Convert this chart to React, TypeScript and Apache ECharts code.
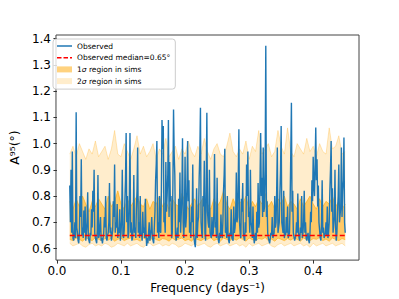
import React, { useEffect, useRef } from "react";
import * as echarts from "echarts";

// Frequency grids (days^-1)
const FREQ_START = 0.02;
const OBS_STEP = 0.001;
const BAND_STEP = 0.005;

const observed = [
  0.84, 0.70, 0.90, 0.66, 0.97, 0.64, 0.63, 0.65, 0.70, 0.64,
  1.12, 0.68, 0.66, 0.63, 0.62, 0.66, 0.80, 0.72, 0.94, 0.65,
  0.68, 0.64, 0.745, 0.66, 0.76, 0.63, 0.66, 0.70, 0.815, 0.64,
  0.63, 0.62, 0.66, 0.65, 0.75, 0.68, 0.82, 0.74, 0.90, 0.66,
  0.64, 0.63, 0.62, 0.67, 0.88, 0.64, 0.65, 0.69, 0.72, 0.63,
  0.64, 0.62, 0.62, 0.66, 0.72, 0.68, 0.80, 0.64, 0.63, 0.65,
  0.66, 0.70, 0.85, 0.66, 0.68, 0.63, 0.63, 0.67, 0.78, 0.72,
  0.92, 0.66, 0.70, 0.68, 0.77, 0.64, 0.68, 0.66, 0.75, 0.63,
  0.66, 0.71, 0.90, 0.65, 0.64, 0.67, 0.78, 0.86, 1.04, 0.70,
  0.80, 0.64, 0.66, 0.78, 1.04, 0.66, 0.70, 0.63, 0.64, 0.68,
  0.88, 0.66, 0.68, 0.64, 0.75, 0.82, 0.985, 0.66, 0.70, 0.64,
  0.80, 0.65, 0.66, 0.63, 0.74, 0.66, 0.68, 0.64, 0.79, 0.66,
  0.61, 0.64, 0.62, 0.66, 0.70, 0.63, 0.65, 0.67, 0.72, 0.64,
  0.63, 0.62, 0.68, 0.74, 0.86, 0.92, 1.01, 0.66, 0.70, 0.64,
  0.80, 0.67, 0.66, 0.82, 1.09, 0.98, 1.067, 0.70, 0.72, 0.66,
  0.93, 0.74, 0.80, 0.88, 1.09, 0.72, 0.93, 0.78, 0.80, 0.64,
  0.66, 0.84, 1.13, 0.96, 0.88, 0.66, 0.63, 0.65, 0.68, 0.64,
  0.79, 0.70, 0.89, 0.66, 0.66, 0.80, 1.02, 0.70, 0.64, 0.72,
  0.95, 0.68, 0.72, 0.84, 1.01, 0.78, 0.86, 0.66, 0.70, 0.64,
  0.76, 0.70, 0.92, 0.66, 0.64, 0.62, 0.605, 0.66, 0.83, 0.64,
  0.70, 0.72, 0.87, 0.96, 1.137, 0.70, 0.66, 0.64, 0.80, 0.76,
  0.935, 0.66, 0.63, 0.84, 1.118, 0.74, 0.70, 0.68, 0.90, 0.66,
  0.66, 0.64, 0.72, 0.65, 0.66, 0.74, 0.96, 0.68, 0.70, 0.64,
  0.87, 0.66, 0.63, 0.62, 0.66, 0.64, 0.73, 0.66, 0.64, 0.70,
  0.82, 0.88, 0.98, 0.66, 0.68, 0.64, 0.80, 0.66, 0.63, 0.62,
  0.66, 0.65, 0.75, 0.64, 0.64, 0.63, 0.76, 0.66, 0.68, 0.72,
  0.89, 0.70, 0.72, 0.86, 1.055, 0.70, 0.66, 0.64, 0.79, 0.74,
  0.85, 0.66, 0.64, 0.63, 0.70, 0.66, 0.92, 0.80, 0.97, 0.72,
  0.74, 0.66, 0.90, 0.70, 0.68, 0.64, 0.76, 0.65, 0.62, 0.64,
  0.66, 0.63, 0.74, 0.66, 0.85, 0.68, 0.70, 0.86, 1.04, 0.80,
  0.87, 0.72, 0.985, 0.74, 0.76, 0.90, 1.373, 0.72, 0.78, 0.66,
  0.64, 0.63, 0.62, 0.64, 0.66, 0.65, 0.72, 0.64, 0.64, 0.66,
  0.80, 0.68, 0.70, 0.82, 0.985, 0.66, 0.66, 0.70, 0.81, 0.90,
  1.067, 0.70, 0.68, 0.66, 0.82, 0.64, 0.66, 0.65, 0.72, 0.66,
  0.76, 0.64, 0.64, 0.66, 0.78, 0.96, 1.156, 0.74, 0.82, 0.66,
  0.66, 0.63, 0.63, 0.65, 0.70, 0.66, 0.81, 0.66, 0.64, 0.63,
  0.68, 0.66, 0.80, 0.64, 0.66, 0.70, 0.82, 0.66, 0.70, 0.64,
  0.63, 0.65, 0.66, 0.63, 0.62, 0.66, 0.74, 0.70, 0.86, 0.78,
  0.95, 0.84, 0.80, 0.92, 1.061, 0.86, 0.94, 0.76, 0.84, 0.70,
  0.70, 0.64, 0.63, 0.70, 0.86, 0.66, 0.68, 0.64, 0.64, 0.66,
  0.70, 0.65, 0.76, 0.64, 0.66, 0.70, 0.82, 0.90, 1.01, 0.74,
  0.83, 0.66, 0.66, 0.72, 0.90, 0.68, 0.63, 0.66, 0.74, 0.80,
  0.92, 0.70, 0.70, 0.76, 0.985, 0.72, 0.82, 0.86, 1.023, 0.70,
  0.66,
];

const medianValue = 0.65;
const medianRange = [0.02, 0.45];

// Simulation bands (one value per 0.005 days^-1)
const sigma2Lower = [
  0.62, 0.61, 0.615, 0.62, 0.61, 0.605, 0.615, 0.62, 0.61, 0.615,
  0.61, 0.62, 0.615, 0.605, 0.61, 0.62, 0.615, 0.61, 0.62, 0.61,
  0.615, 0.62, 0.61, 0.605, 0.615, 0.62, 0.61, 0.615, 0.62, 0.61,
  0.615, 0.61, 0.62, 0.615, 0.605, 0.61, 0.62, 0.615, 0.61, 0.62,
  0.61, 0.615, 0.62, 0.61, 0.605, 0.615, 0.62, 0.61, 0.615, 0.62,
  0.61, 0.615, 0.62, 0.61, 0.615, 0.605, 0.62, 0.61, 0.615, 0.62,
  0.61, 0.615, 0.62, 0.61, 0.605, 0.615, 0.62, 0.61, 0.615, 0.62,
  0.61, 0.615, 0.62, 0.61, 0.615, 0.605, 0.62, 0.61, 0.615, 0.62,
  0.61, 0.615, 0.62, 0.61, 0.615, 0.62, 0.61,
];
const sigma2Upper = [
  0.96, 0.99, 0.95, 1.00, 0.97, 0.94, 0.98, 0.96, 1.01, 0.95,
  0.97, 0.99, 0.94, 0.98, 1.05, 0.96, 0.95, 1.00, 0.97, 0.94,
  0.98, 1.03, 0.96, 0.99, 0.95, 0.97, 1.00, 0.94, 0.98, 0.96,
  1.02, 0.95, 0.97, 0.99, 0.94, 0.98, 0.96, 1.01, 0.97, 0.95,
  0.99, 0.96, 1.02, 0.97, 0.94, 0.98, 1.00, 0.96, 0.95, 0.99,
  1.04, 0.97, 0.95, 0.98, 0.96, 1.01, 0.94, 0.99, 0.97, 1.05,
  0.96, 0.98, 1.00, 0.95, 0.97, 1.05, 0.99, 0.96, 1.06, 0.97,
  0.95, 1.00, 0.98, 0.96, 1.02, 0.97, 0.99, 0.95, 1.00, 0.97,
  0.96, 1.06, 0.98, 0.99, 1.03, 0.96, 0.97,
];
const sigma1Lower = [
  0.635, 0.63, 0.64, 0.635, 0.628, 0.64, 0.635, 0.63, 0.642, 0.635,
  0.63, 0.638, 0.632, 0.64, 0.628, 0.635, 0.64, 0.63, 0.636, 0.64,
  0.632, 0.635, 0.628, 0.64, 0.635, 0.63, 0.642, 0.634, 0.63, 0.638,
  0.635, 0.628, 0.64, 0.632, 0.636, 0.64, 0.63, 0.635, 0.628, 0.64,
  0.634, 0.63, 0.638, 0.635, 0.642, 0.63, 0.636, 0.628, 0.64, 0.635,
  0.63, 0.638, 0.632, 0.64, 0.635, 0.628, 0.64, 0.634, 0.63, 0.638,
  0.635, 0.642, 0.63, 0.636, 0.628, 0.64, 0.635, 0.63, 0.638, 0.632,
  0.64, 0.635, 0.628, 0.64, 0.634, 0.63, 0.638, 0.635, 0.642, 0.63,
  0.636, 0.628, 0.64, 0.635, 0.63, 0.638, 0.634,
];
const sigma1Upper = [
  0.78, 0.75, 0.79, 0.76, 0.80, 0.77, 0.74, 0.78, 0.76, 0.79,
  0.77, 0.75, 0.80, 0.76, 0.78, 0.82, 0.77, 0.75, 0.79, 0.76,
  0.78, 0.80, 0.77, 0.76, 0.79, 0.75, 0.78, 0.77, 0.80, 0.76,
  0.78, 0.75, 0.79, 0.77, 0.76, 0.81, 0.78, 0.75, 0.77, 0.79,
  0.76, 0.78, 0.80, 0.77, 0.75, 0.79, 0.76, 0.78, 0.82, 0.77,
  0.75, 0.79, 0.76, 0.78, 0.77, 0.80, 0.75, 0.78, 0.76, 0.79,
  0.77, 0.81, 0.76, 0.78, 0.75, 0.79, 0.77, 0.80, 0.76, 0.78,
  0.77, 0.75, 0.79, 0.76, 0.78, 0.80, 0.77, 0.75, 0.79, 0.76,
  0.78, 0.77, 0.80, 0.76, 0.78, 0.75, 0.77,
];

const xTicks = [0.0, 0.1, 0.2, 0.3, 0.4];
const yTicks = [0.6, 0.7, 0.8, 0.9, 1.0, 1.1, 1.2, 1.3, 1.4];

const FONT = "DejaVu Sans";
const OBS_NAME = "Observed";
const MED_NAME = "Observed median=0.65°";
const S1_NAME = "1σ region in sims";
const S2_NAME = "2σ region in sims";

const S1_FILL = "rgba(255,165,0,0.5)";
const S2_FILL = "rgba(255,165,0,0.2)";

function bandSeries(name: string, xs: number[], lower: number[], upper: number[], fill: string, edge: string) {
  return {
    name,
    type: "custom",
    silent: true,
    clip: true,
    z: 1,
    itemStyle: { color: fill },
    data: xs.map((x, j) => [x, lower[j], upper[j]]),
    encode: { x: 0, y: [1, 2] },
    renderItem: (params: any, api: any) => {
      if (params.dataIndex !== 0) return null;
      const up = xs.map((x, j) => api.coord([x, upper[j]]));
      const lo = xs.map((x, j) => api.coord([x, lower[j]]));
      const poly = up.concat(lo.slice().reverse());
      return {
        type: "group",
        children: [
          { type: "polygon", shape: { points: poly }, style: { fill, stroke: "none" } },
          { type: "polyline", shape: { points: up }, style: { stroke: edge, lineWidth: 1, fill: "none" } },
          { type: "polyline", shape: { points: lo }, style: { stroke: edge, lineWidth: 1, fill: "none" } },
        ],
      };
    },
  };
}

export default function App() {
  const ref = useRef<HTMLDivElement>(null);

  useEffect(() => {
    const chart = echarts.init(ref.current!, null, { renderer: "svg" });
    const r4 = (v: number) => Math.round(v * 10000) / 10000;
    const obsData = observed.map((v, i) => [r4(FREQ_START + i * OBS_STEP), v]);
    const bandX = sigma2Lower.map((_, j) => r4(FREQ_START + j * BAND_STEP));

    chart.setOption({
      animation: false,
      backgroundColor: "#ffffff",
      grid: {
        left: 50,
        right: 40,
        top: 35,
        bottom: 38,
        show: true,
        borderColor: "#444",
        borderWidth: 1,
        backgroundColor: "transparent",
      },
      xAxis: {
        type: "value",
        min: -0.0015,
        max: 0.4715,
        axisLine: { show: false },
        splitLine: { show: false },
        axisTick: {
          show: true,
          customValues: xTicks,
          length: 3.5,
          lineStyle: { color: "#333", width: 1 },
        },
        axisLabel: {
          customValues: xTicks,
          formatter: (v: number) => v.toFixed(1),
          fontFamily: FONT,
          fontSize: 12,
          color: "#000",
          margin: 5,
        },
        name: "Frequency (days⁻¹)",
        nameLocation: "middle",
        nameGap: 19,
        nameTextStyle: { fontFamily: FONT, fontSize: 12, color: "#000" },
      },
      yAxis: {
        type: "value",
        min: 0.556,
        max: 1.414,
        axisLine: { show: false },
        splitLine: { show: false },
        axisTick: {
          show: true,
          customValues: yTicks,
          length: 3.5,
          lineStyle: { color: "#333", width: 1 },
        },
        axisLabel: {
          customValues: yTicks,
          formatter: (v: number) => v.toFixed(1),
          fontFamily: FONT,
          fontSize: 12,
          color: "#000",
          margin: 5,
        },
        name: "A⁹⁵(°)",
        nameLocation: "middle",
        nameRotate: 90,
        nameGap: 24,
        nameTextStyle: { fontFamily: FONT, fontSize: 12.5, color: "#000" },
      },
      legend: {
        orient: "vertical",
        left: 53,
        top: 39,
        itemWidth: 15,
        itemHeight: 6,
        itemGap: 1.7,
        padding: [2, 5, 3, 4],
        symbolKeepAspect: true,
        backgroundColor: "rgba(255,255,255,0.8)",
        borderColor: "#cccccc",
        borderWidth: 1,
        borderRadius: 3,
        textStyle: {
          fontFamily: FONT,
          fontSize: 7.5,
          color: "#000",
          lineHeight: 10,
          rich: {
            n: { fontFamily: FONT, fontSize: 7.5, color: "#000", lineHeight: 10 },
            i: { fontFamily: FONT, fontSize: 7.5, color: "#000", fontStyle: "italic", lineHeight: 10 },
          },
        },
        formatter: (name: string) =>
          name.includes("σ") ? `{n|${name.slice(0, 1)}}{i|σ}{n|${name.slice(2)}}` : name,
        data: [
          {
            name: OBS_NAME,
            icon: "path://M0,0H15V1.5H0Z",
            itemStyle: { color: "#1f77b4", borderWidth: 0 },
          },
          {
            name: MED_NAME,
            icon: "path://M0,0H4.5V1.5H0ZM6.5,0H11V1.5H6.5ZM13,0H15V1.5H13Z",
            itemStyle: { color: "#ff0000", borderWidth: 0 },
          },
          { name: S1_NAME, icon: "rect", itemStyle: { color: S1_FILL, borderWidth: 0 } },
          { name: S2_NAME, icon: "rect", itemStyle: { color: S2_FILL, borderWidth: 0 } },
        ],
      },
      series: [
        bandSeries(S2_NAME, bandX, sigma2Lower, sigma2Upper, S2_FILL, "rgba(255,165,0,0.25)"),
        bandSeries(S1_NAME, bandX, sigma1Lower, sigma1Upper, S1_FILL, "rgba(255,165,0,0.55)"),
        {
          name: OBS_NAME,
          type: "line",
          z: 3,
          data: obsData,
          symbol: "none",
          itemStyle: { color: "#1f77b4" },
          lineStyle: { color: "#1f77b4", width: 1.4 },
        },
        {
          name: MED_NAME,
          type: "line",
          z: 5,
          data: [
            [medianRange[0], medianValue],
            [medianRange[1], medianValue],
          ],
          symbol: "none",
          itemStyle: { color: "#ff0000" },
          lineStyle: { color: "#ff0000", width: 1.6, type: [5, 2.5] },
        },
      ],
    });

    return () => chart.dispose();
  }, []);

  return (
    <div
      ref={ref}
      style={{ position: "absolute", left: 0, top: 0, width: 399, height: 299, background: "#fff" }}
    />
  );
}
